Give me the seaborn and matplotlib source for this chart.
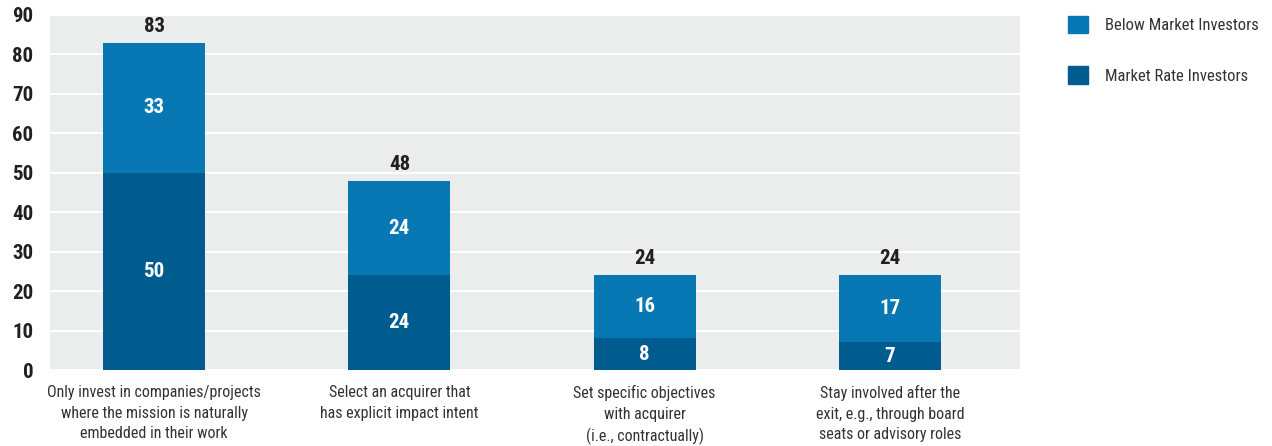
import matplotlib
matplotlib.use("Agg")
import matplotlib.pyplot as plt
from matplotlib import font_manager
from matplotlib.patches import Patch
import seaborn as sns
import pandas as pd

categories = [
    "Only invest in companies/projects\nwhere the mission is naturally\nembedded in their work",
    "Select an acquirer that\nhas explicit impact intent",
    "Set specific objectives\nwith acquirer\n(i.e., contractually)",
    "Stay involved after the\nexit, e.g., through board\nseats or advisory roles",
]
market_rate = [50, 24, 8, 7]
below_market = [33, 24, 16, 17]
totals = [83, 48, 24, 24]

light_blue = "#0878B4"
dark_blue = "#005B8E"

# condensed face if one is there, otherwise plain DejaVu a bit smaller
names = {f.name for f in font_manager.fontManager.ttflist}
family, scale = "DejaVu Sans", 0.85
for cand in ["Roboto Condensed", "Liberation Sans Narrow", "Open Sans Condensed",
             "Archivo Narrow", "PT Sans Narrow"]:
    if cand in names:
        family, scale = cand, 1.0
        break

sns.set_theme(style="white")
plt.rcParams["font.family"] = [family, "DejaVu Sans"]

df = pd.DataFrame({"cat": categories, "market": market_rate,
                   "below": below_market, "total": totals})

fig = plt.figure(figsize=(12.72, 4.46), dpi=100)
ax = fig.add_axes([50 / 1272, 76 / 446, 970 / 1272, 355 / 446])
ax.set_facecolor("#EBECEC")

# stacked bars: total first (light), market rate over it (dark)
sns.barplot(data=df, x="cat", y="total", color=light_blue, width=0.416,
            saturation=1, linewidth=0, ax=ax)
sns.barplot(data=df, x="cat", y="market", color=dark_blue, width=0.416,
            saturation=1, linewidth=0, ax=ax)

ax.set_ylim(0, 90)
ax.set_xlim(-0.424, 3.53)
ax.set_yticks(range(0, 91, 10))
ax.yaxis.grid(True, color="white", linewidth=1.5)
ax.set_axisbelow(True)
for s in ax.spines.values():
    s.set_visible(False)
ax.set_xlabel("")
ax.set_ylabel("")
ax.tick_params(axis="y", length=0, pad=12, labelsize=15 * scale, labelcolor="#231F20")
ax.tick_params(axis="x", length=0, pad=11, labelsize=11.5 * scale, labelcolor="#333333")
for lab in ax.get_yticklabels():
    lab.set_fontweight("bold")
for lab in ax.get_xticklabels():
    lab.set_linespacing(1.45)

for i in range(len(categories)):
    m, b, t = market_rate[i], below_market[i], totals[i]
    ax.text(i, m / 2, str(m), ha="center", va="center", color="white",
            fontsize=15 * scale, fontweight="bold")
    ax.text(i, m + b / 2, str(b), ha="center", va="center", color="white",
            fontsize=15 * scale, fontweight="bold")
    ax.text(i, t + 1.8, str(t), ha="center", va="bottom", color="#231F20",
            fontsize=15 * scale, fontweight="bold")

handles = [Patch(color=light_blue, label="Below Market Investors"),
           Patch(color=dark_blue, label="Market Rate Investors")]
fig.legend(handles=handles, loc="upper left", bbox_to_anchor=(1068 / 1272, 1 - 16 / 446),
           frameon=False, prop={"size": 12 * scale}, handlelength=1.2, handleheight=1.2,
           handletextpad=1.0, labelspacing=2.0, borderpad=0, borderaxespad=0,
           labelcolor="#333333")

fig.savefig("out.png", dpi=100)
